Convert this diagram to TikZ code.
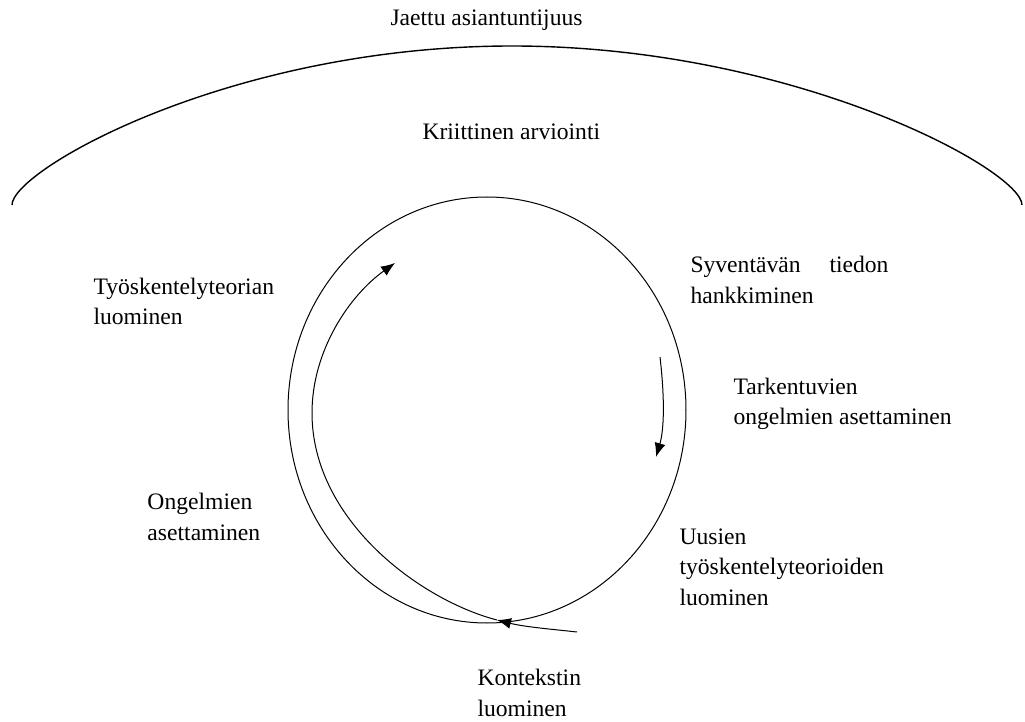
\documentclass[tikz,border=0pt]{standalone}
\usepackage{fontspec}
\setmainfont{Liberation Serif}
\usetikzlibrary{arrows.meta}
\begin{document}
\begin{tikzpicture}[x=0.5pt,y=-0.5pt,line width=0.5pt,
    phase/.style={font=\fontsize{11.8}{15.2}\selectfont,inner sep=0pt,anchor=base west,align=left},
    flow/.style={-{Latex[length=7pt,width=5.5pt]}}]
  \useasboundingbox (0,0) rectangle (1025,722);
  % outer arc and cycle
  \draw[line width=0.7pt] (12,205) .. controls (12,170) and (230,46) .. (512,46)
        .. controls (794,46) and (1022,170) .. (1022,205);
  \draw (487,410) ellipse [x radius=199, y radius=213];
  % arrows along the cycle
  \coordinate (tail) at (577,632);
  \coordinate (bottom) at (497,620);
  \coordinate (left) at (312,413);
  \coordinate (top) at (395,263);
  \coordinate (rstart) at (660,357);
  \coordinate (rtip) at (656,457);
  \draw[flow] (tail) .. controls (550,629) and (525,627) .. (bottom);
  \draw (bottom) .. controls (420,600) and (312,520) .. (left);
  \draw[flow] (left) .. controls (312,350) and (350,295) .. (top);
  \draw[flow] (rstart) .. controls (665,400) and (664,430) .. (rtip);
  % labels
  \node[phase] (jaettu) at (390,26) {Jaettu asiantuntijuus};
  \node[phase] (kriit) at (422,140) {Kriittinen arviointi};
  \node[phase] (tyo) at (93,325) {Työskentelyteorian\\luominen};
  \node[phase,text width=99pt,align=none] (syv) at (690,273) {Syventävän\hfill tiedon\\hankkiminen};
  \node[phase] (tark) at (733,425) {Tarkentuvien\\ongelmien asettaminen};
  \node[phase] (ong) at (147,540) {Ongelmien\\asettaminen};
  \node[phase] (uus) at (679,605) {Uusien\\työskentelyteorioiden\\luominen};
  \node[phase] (kont) at (477,716) {Kontekstin\\luominen};
\end{tikzpicture}
\end{document}
